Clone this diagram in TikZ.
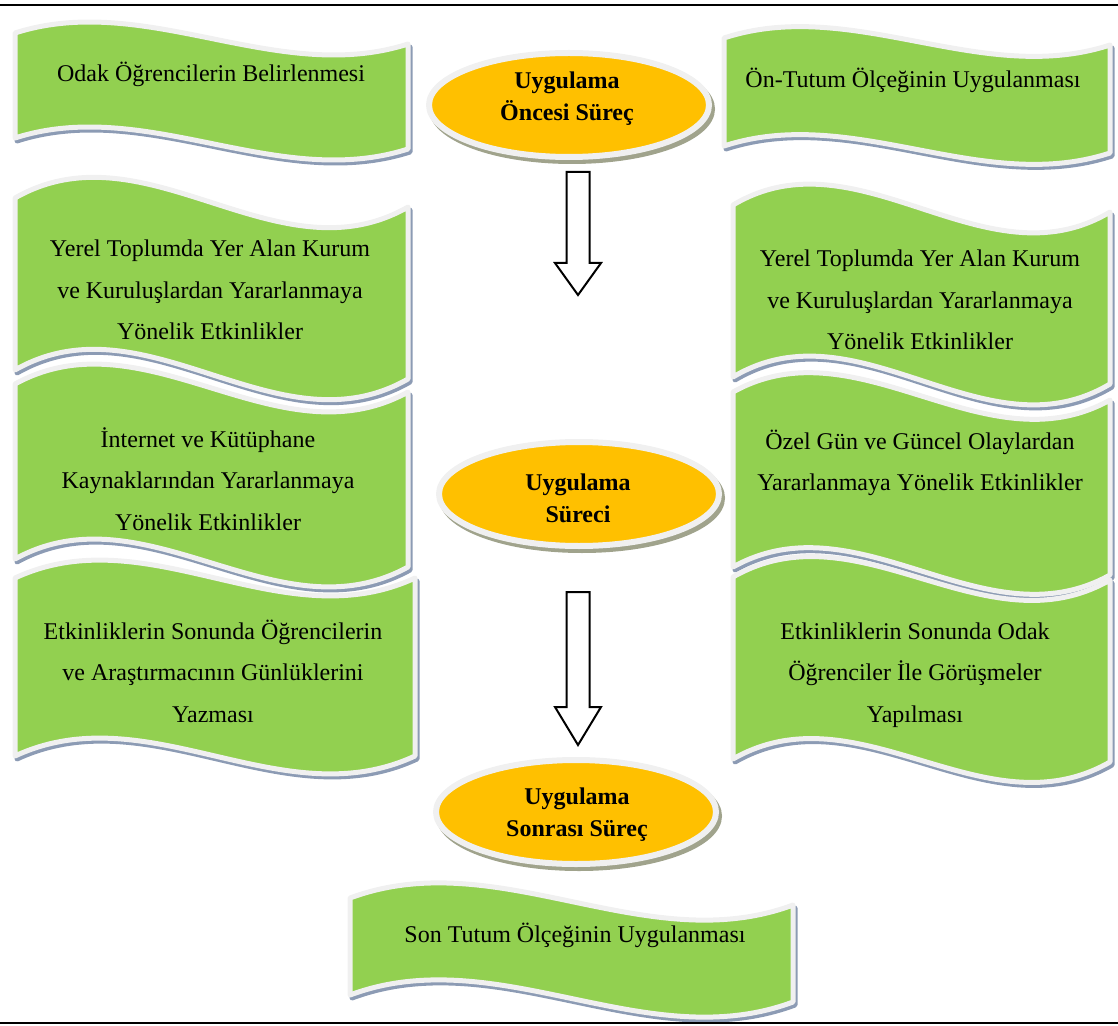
\documentclass[tikz,border=0pt]{standalone}
\usepackage{fontspec}
\setmainfont{Liberation Serif}
\usetikzlibrary{shapes.geometric,calc}
\definecolor{wgreen}{RGB}{146,208,80}
\definecolor{wborder}{RGB}{240,240,240}
\definecolor{wshadow}{RGB}{140,155,180}
\definecolor{eorange}{RGB}{255,192,0}
\definecolor{eshadow}{RGB}{160,163,140}
\newcommand\wavep[6]{(#1,#3) .. controls ({#1+(#2-#1)/3},{#3-#6}) and ({#1+2*(#2-#1)/3},{#4+#6}) .. (#2,#4) -- (#2,{#4+#5}) .. controls ({#1+2*(#2-#1)/3},{#4+#5+#6}) and ({#1+(#2-#1)/3},{#3+#5-#6}) .. (#1,{#3+#5}) -- cycle}
\newcommand\wavebox[6]{\path[waveshadow] \wavep{#1}{#2}{#3}{#4}{#5}{#6}; \path[wavefill] \wavep{#1}{#2}{#3}{#4}{#5}{#6};}
\begin{document}
\begin{tikzpicture}[x=0.5pt,y=-0.5pt,
 wavefill/.style={fill=wgreen,draw=wborder,line width=2.5pt,line join=round},
 waveshadow/.style={fill=wshadow,draw=wshadow,line width=2.5pt,line join=round,shift={(2,3)}},
 boxtext/.style={font=\fontsize{12}{20.75}\selectfont,align=center,inner sep=0pt},
 proc/.style={ellipse,fill=eorange,draw=wborder,line width=3pt,minimum width=140pt,minimum height=52pt,inner sep=0pt},
 procshadow/.style={ellipse,fill=eshadow,draw=eshadow,line width=3pt,minimum width=140pt,minimum height=52pt,inner sep=0pt},
 proctext/.style={font=\fontsize{12}{16}\selectfont\bfseries,align=center,inner sep=0pt},
 blockarr/.style={draw=black,fill=white,line width=1pt,line join=miter},
 rulestyle/.style={line width=1pt}]
\useasboundingbox (0,0) rectangle (1118,1026);
% rules
\coordinate (tl) at (0,5); \coordinate (tr) at (1118,5);
\coordinate (bl) at (0,1023); \coordinate (br) at (1118,1023);
\draw[rulestyle] (tl) -- (tr);
% wave boxes
\wavebox{15}{408}{33}{44}{105}{42}
\wavebox{724}{1110}{38}{45}{108}{42}
\wavebox{15}{408}{198}{207}{172}{75}
\wavebox{15}{408}{384}{392}{175}{72}
\wavebox{15}{415}{578}{578}{178}{62}
\wavebox{733}{1110}{205}{212}{172}{75}
\wavebox{733}{1110}{392}{400}{175}{70}
\wavebox{733}{1110}{577}{580}{182}{72}
% texts
\node[boxtext] (ta) at (211,74) {Odak Öğrencilerin Belirlenmesi};
\node[boxtext] (tb) at (913,80) {Ön-Tutum Ölçeğinin Uygulanması};
\node[boxtext] (tc) at (210,290) {Yerel Toplumda Yer Alan Kurum\\ve Kuruluşlardan Yararlanmaya\\Yönelik Etkinlikler};
\node[boxtext] (td) at (208,479) {İnternet ve Kütüphane\\Kaynaklarından Yararlanmaya\\Yönelik Etkinlikler};
\node[boxtext] (te) at (213,671) {Etkinliklerin Sonunda Öğrencilerin\\ve Araştırmacının Günlüklerini\\Yazması};
\node[boxtext] (tf) at (920,300) {Yerel Toplumda Yer Alan Kurum\\ve Kuruluşlardan Yararlanmaya\\Yönelik Etkinlikler};
\node[boxtext] (tg) at (920,463) {Özel Gün ve Güncel Olaylardan\\Yararlanmaya Yönelik Etkinlikler};
\node[boxtext] (th) at (915,675) {Etkinliklerin Sonunda Odak\\Öğrenciler İle Görüşmeler\\Yapılması};
% ellipses
\node[procshadow] (e1s) at (572,109) {};
\node[proc] (e1) at (569,105) {};
\node[proctext] (e1t) at (567,99) {Uygulama\\Öncesi Süreç};
\node[procshadow] (e2s) at (582,498) {};
\node[proc] (e2) at (579,494) {};
\node[proctext] (e2t) at (578,498) {Uygulama\\Süreci};
\node[procshadow] (e3s) at (579,816) {};
\node[proc] (e3) at (576,812) {};
\node[proctext] (e3t) at (577,815) {Uygulama\\Sonrası Süreç};
% block arrows
\coordinate (a1s) at (578,172); \coordinate (a1t) at (578,295);
\draw[blockarr] ($(a1s)+(-11.5,0)$) -- ($(a1s)+(11.5,0)$) -- ($(a1t)+(11.5,-32)$) -- ($(a1t)+(23,-32)$) -- (a1t) -- ($(a1t)+(-23,-32)$) -- ($(a1t)+(-11.5,-32)$) -- cycle;
\coordinate (a2s) at (578,592); \coordinate (a2t) at (578,745);
\draw[blockarr] ($(a2s)+(-11.5,0)$) -- ($(a2s)+(11.5,0)$) -- ($(a2t)+(11.5,-38)$) -- ($(a2t)+(23,-38)$) -- (a2t) -- ($(a2t)+(-23,-38)$) -- ($(a2t)+(-11.5,-38)$) -- cycle;
% bottom box
\wavebox{350}{793}{898}{905}{97}{55}
\node[boxtext] (ti) at (575,935) {Son Tutum Ölçeğinin Uygulanması};
\draw[rulestyle] (bl) -- (br);
\end{tikzpicture}
\end{document}
